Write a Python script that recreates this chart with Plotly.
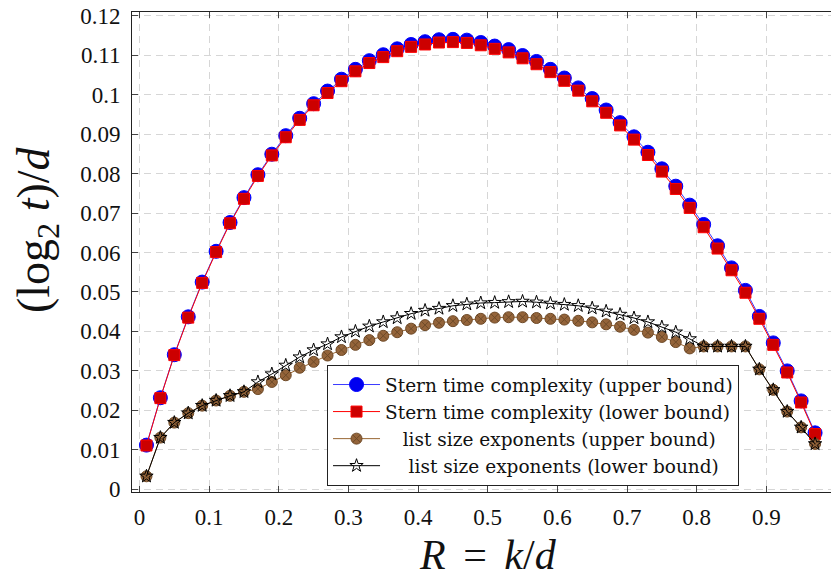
import plotly.graph_objects as go

R = [0.01, 0.03, 0.05, 0.07, 0.09, 0.11, 0.13, 0.15, 0.17, 0.19,
     0.21, 0.23, 0.25, 0.27, 0.29, 0.31, 0.33, 0.35, 0.37, 0.39,
     0.41, 0.43, 0.45, 0.47, 0.49, 0.51, 0.53, 0.55, 0.57, 0.59,
     0.61, 0.63, 0.65, 0.67, 0.69, 0.71, 0.73, 0.75, 0.77, 0.79,
     0.81, 0.83, 0.85, 0.87, 0.89, 0.91, 0.93, 0.95, 0.97]

stern_upper = [0.0112, 0.0232, 0.0341, 0.0437, 0.0525, 0.0603, 0.0676, 0.0739, 0.0797, 0.0849,
               0.0896, 0.0940, 0.0977, 0.1009, 0.1039, 0.1064, 0.1086, 0.1101, 0.1116, 0.1127,
               0.1134, 0.1139, 0.1140, 0.1138, 0.1132, 0.1123, 0.1114, 0.1099, 0.1084, 0.1064,
               0.1042, 0.1017, 0.0990, 0.0961, 0.0929, 0.0893, 0.0854, 0.0812, 0.0768, 0.0720,
               0.0671, 0.0617, 0.0561, 0.0504, 0.0438, 0.0371, 0.0300, 0.0224, 0.0143]

stern_lower = [0.0111, 0.0231, 0.0340, 0.0435, 0.0523, 0.0601, 0.0674, 0.0736, 0.0794, 0.0846,
               0.0892, 0.0936, 0.0973, 0.1004, 0.1034, 0.1059, 0.1080, 0.1095, 0.1110, 0.1121,
               0.1127, 0.1132, 0.1133, 0.1131, 0.1125, 0.1116, 0.1107, 0.1092, 0.1077, 0.1057,
               0.1035, 0.1010, 0.0983, 0.0954, 0.0922, 0.0886, 0.0847, 0.0805, 0.0761, 0.0713,
               0.0664, 0.0610, 0.0555, 0.0498, 0.0432, 0.0366, 0.0296, 0.0220, 0.0140]

list_upper = [0.0033, 0.0131, 0.0169, 0.0193, 0.0212, 0.0225, 0.0237, 0.0247, 0.0254, 0.0272,
              0.0289, 0.0308, 0.0323, 0.0339, 0.0353, 0.0366, 0.0378, 0.0389, 0.0398, 0.0407,
              0.0416, 0.0422, 0.0426, 0.0429, 0.0432, 0.0435, 0.0436, 0.0436, 0.0434, 0.0432,
              0.0430, 0.0427, 0.0423, 0.0418, 0.0412, 0.0404, 0.0397, 0.0386, 0.0373, 0.0357,
              0.0362, 0.0362, 0.0362, 0.0362, 0.0304, 0.0252, 0.0197, 0.0157, 0.0115]

list_lower = [0.0033, 0.0131, 0.0169, 0.0193, 0.0212, 0.0225, 0.0237, 0.0247, 0.0272, 0.0292,
              0.0314, 0.0335, 0.0353, 0.0368, 0.0386, 0.0400, 0.0413, 0.0424, 0.0434, 0.0445,
              0.0453, 0.0458, 0.0465, 0.0469, 0.0472, 0.0473, 0.0475, 0.0476, 0.0474, 0.0471,
              0.0468, 0.0465, 0.0459, 0.0451, 0.0443, 0.0434, 0.0424, 0.0411, 0.0398, 0.0381,
              0.0362, 0.0362, 0.0362, 0.0362, 0.0304, 0.0252, 0.0197, 0.0157, 0.0115]

x_ticks = [0, 0.1, 0.2, 0.3, 0.4, 0.5, 0.6, 0.7, 0.8, 0.9, 1.0]
x_labels = ["0", "0.1", "0.2", "0.3", "0.4", "0.5", "0.6", "0.7", "0.8", "0.9", "1"]
y_ticks = [0, 0.01, 0.02, 0.03, 0.04, 0.05, 0.06, 0.07, 0.08, 0.09, 0.10, 0.11, 0.12]
y_labels = ["0", "0.01", "0.02", "0.03", "0.04", "0.05", "0.06", "0.07", "0.08", "0.09", "0.1", "0.11", "0.12"]

names = ["Stern time complexity (upper bound)",
         "Stern time complexity (lower bound)",
         "\u00a0\u00a0\u00a0list size exponents (upper bound)",
         "\u00a0\u00a0\u00a0\u00a0list size exponents (lower bound)"]

FONT = "Liberation Serif"
LEGEND_FONT = "DejaVu Serif"

fig = go.Figure()
fig.add_trace(go.Scatter(x=R, y=stern_upper, name=names[0], mode="lines+markers",
                         line=dict(color="#3a3aff", width=1),
                         marker=dict(symbol="circle", size=14, color="#0000f0",
                                     line=dict(color="#0000ff", width=1))))
fig.add_trace(go.Scatter(x=R, y=stern_lower, name=names[1], mode="lines+markers",
                         line=dict(color="#ff0000", width=1),
                         marker=dict(symbol="square", size=11, color="#cc0000",
                                     line=dict(color="#ff0000", width=1))))
fig.add_trace(go.Scatter(x=R, y=list_upper, name=names[2], mode="lines+markers",
                         line=dict(color="#996633", width=1),
                         marker=dict(symbol="circle-x", size=11, color="#94643a",
                                     line=dict(color="#6e4a28", width=1))))
fig.add_trace(go.Scatter(x=R, y=list_lower, name=names[3], mode="lines+markers",
                         line=dict(color="#000000", width=1),
                         marker=dict(symbol="star-open", size=10, color="#000000",
                                     line=dict(color="#000000", width=1))))

axis_common = dict(showline=True, linecolor="#222222", linewidth=1,
                   ticks="inside", ticklen=6, tickcolor="#444444",
                   showgrid=True, gridcolor="#d6d6d6", gridwidth=1, griddash="7px,5px",
                   zeroline=False, ticklabeloverflow="allow",
                   tickfont=dict(family=FONT, size=23, color="#111111"))

fig.update_xaxes(range=[-0.01077, 1.0101], tickmode="array", tickvals=x_ticks, ticktext=x_labels,
                 mirror="allticks", ticklabelstandoff=4, **axis_common)
fig.update_yaxes(range=[-0.00068, 0.12093], tickmode="array", tickvals=y_ticks, ticktext=y_labels,
                 mirror=False, ticklabelstandoff=6, **axis_common)

fig.update_layout(
    width=839, height=579,
    margin=dict(l=124, r=4, t=4, b=95, autoexpand=False),
    plot_bgcolor="white", paper_bgcolor="white",
    font=dict(family=FONT, color="#111111"),
    showlegend=True,
    legend=dict(x=0.2743, y=0.0125, xanchor="left", yanchor="bottom",
                bgcolor="white", bordercolor="#222222", borderwidth=1,
                font=dict(family=LEGEND_FONT, size=18.5, color="#111111"),
                itemwidth=47, tracegroupgap=0, itemsizing="trace"),
    annotations=[
        dict(text="<i>R</i> \u2006=\u2006 <i>k</i>/<i>d</i>", xref="paper", yref="paper",
             x=0.5007, y=-0.13125, xanchor="center", yanchor="middle", showarrow=False,
             font=dict(family=FONT, size=42, color="#111111")),
        dict(text="(log<sub>2</sub> <i>t</i>)/<i>d</i>", xref="paper", yref="paper",
             x=-0.1336, y=0.5458, xanchor="center", yanchor="middle", showarrow=False,
             textangle=-90, font=dict(family=FONT, size=46, color="#111111")),
    ],
)

fig.write_html("out.html")
